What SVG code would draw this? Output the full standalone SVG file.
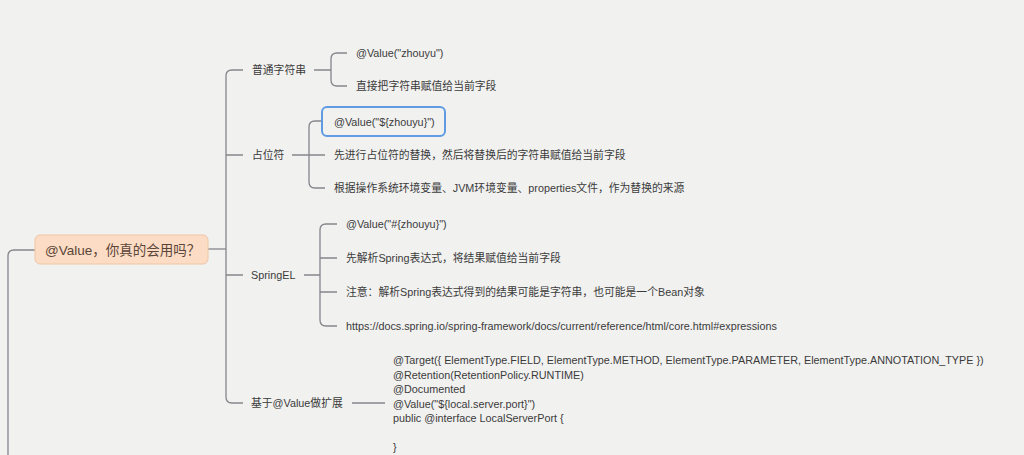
<svg xmlns="http://www.w3.org/2000/svg" width="1024" height="455" viewBox="0 0 1024 455">
<style>
.ln{fill:none;stroke:#85858c;stroke-width:1.3}
.t{font-family:"Liberation Sans","Noto Sans CJK SC",sans-serif;font-size:10.8px;fill:#3b3b3b}
.r{font-family:"Liberation Sans","Noto Sans CJK SC",sans-serif;font-size:13.5px;fill:#5a4538}
</style>
<rect width="1024" height="455" fill="#f1f1f0"/>
<g id="connectors">
<path class="ln" d="M35 250 H14 Q8 250 8 256 V455"/>
<path class="ln" d="M208 249 H226"/>
<path class="ln" d="M243 70 H232 Q226 70 226 76 V397 Q226 403 232 403 H243"/>
<path class="ln" d="M226 155 H243 M226 275 H243"/>
<path class="ln" d="M314 70 H331 M347 53 H337 Q331 53 331 59 V80 Q331 86 337 86 H347"/>
<path class="ln" d="M292 155 H309 M322 121 H315 Q309 121 309 127 V182 Q309 188 315 188 H325 M309 155 H325"/>
<path class="ln" d="M304 275 H320 M337 224 H326 Q320 224 320 230 V320 Q320 326 326 326 H337 M320 258 H337 M320 292 H337"/>
<path class="ln" d="M352 403 H385"/>
</g>
<g id="root">
<rect x="35" y="235" width="173" height="29" rx="5" fill="#fcdcc4" stroke="#efc6a6" stroke-width="1"/>
<text class="r" x="45" y="254.5">@Value，你真的会用吗？</text>
</g>
<g id="n-plain">
<text class="t" x="252" y="74">普通字符串</text>
</g>
<g id="n-plain-1"><text class="t" x="356" y="57">@Value("zhouyu")</text></g>
<g id="n-plain-2"><text class="t" x="356" y="90">直接把字符串赋值给当前字段</text></g>
<g id="n-placeholder"><text class="t" x="252" y="159">占位符</text></g>
<g id="n-ph-1">
<rect x="322" y="107" width="123" height="29" rx="5" fill="none" stroke="#5e9be3" stroke-width="2"/>
<text class="t" x="334" y="126">@Value("${zhouyu}")</text>
</g>
<g id="n-ph-2"><text class="t" x="334" y="159">先进行占位符的替换，然后将替换后的字符串赋值给当前字段</text></g>
<g id="n-ph-3"><text class="t" x="334" y="192">根据操作系统环境变量、JVM环境变量、properties文件，作为替换的来源</text></g>
<g id="n-spel"><text class="t" x="251" y="279">SpringEL</text></g>
<g id="n-spel-1"><text class="t" x="346" y="228">@Value("#{zhouyu}")</text></g>
<g id="n-spel-2"><text class="t" x="346" y="262">先解析Spring表达式，将结果赋值给当前字段</text></g>
<g id="n-spel-3"><text class="t" x="346" y="296">注意：解析Spring表达式得到的结果可能是字符串，也可能是一个Bean对象</text></g>
<g id="n-spel-4"><text class="t" x="346" y="330">https://docs.spring.io/spring-framework/docs/current/reference/html/core.html#expressions</text></g>
<g id="n-ext"><text class="t" x="251" y="407">基于@Value做扩展</text></g>
<g id="n-ext-code">
<text class="t" x="393" y="364">@Target({ ElementType.FIELD, ElementType.METHOD, ElementType.PARAMETER, ElementType.ANNOTATION_TYPE })</text>
<text class="t" x="393" y="378.5">@Retention(RetentionPolicy.RUNTIME)</text>
<text class="t" x="393" y="393">@Documented</text>
<text class="t" x="393" y="407.5">@Value("${local.server.port}")</text>
<text class="t" x="393" y="422">public @interface LocalServerPort {</text>
<text class="t" x="393" y="451">}</text>
</g>
</svg>
